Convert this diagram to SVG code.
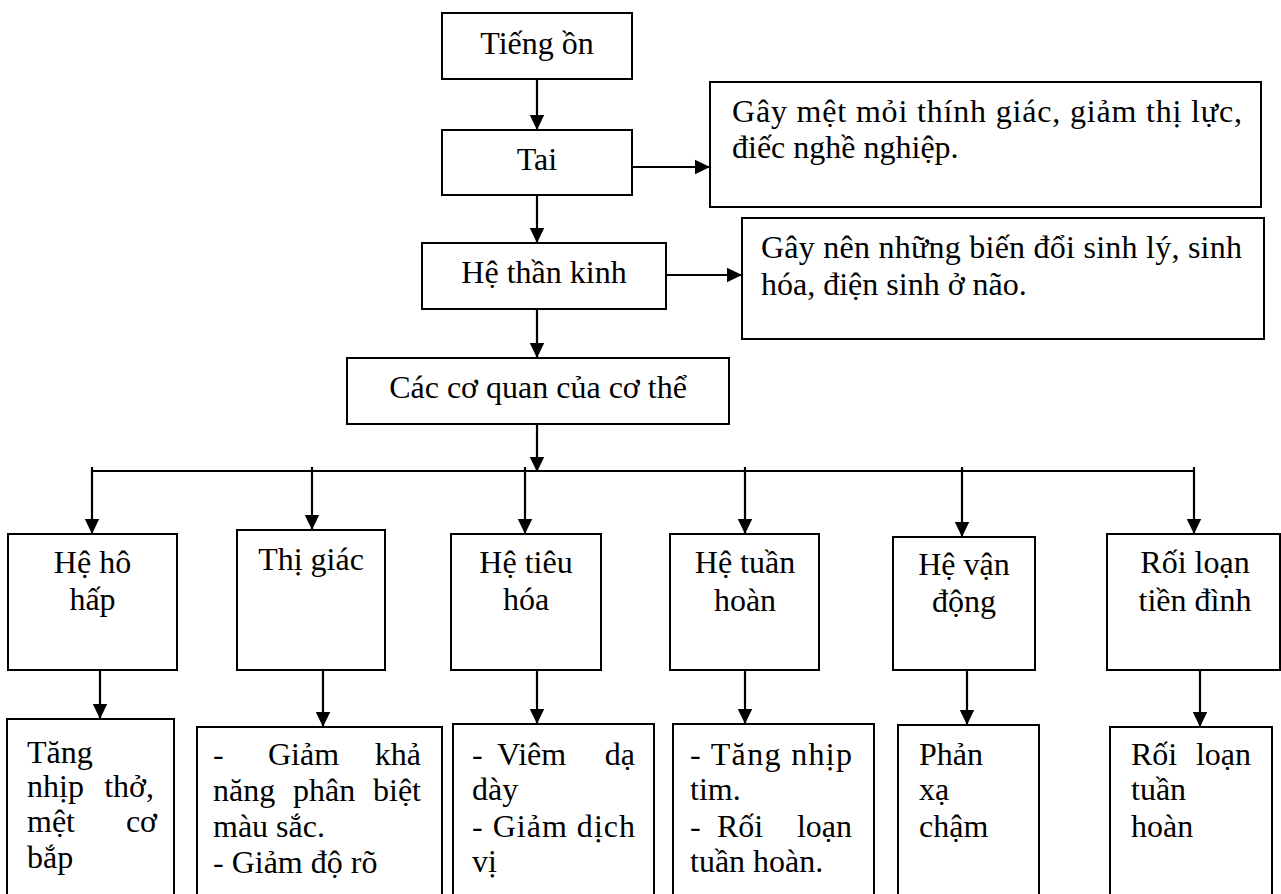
<svg xmlns="http://www.w3.org/2000/svg" width="1281" height="894" viewBox="0 0 1281 894">
<style>
.box{fill:#fff;stroke:#000;stroke-width:2}
.t{font-family:"Liberation Serif","Times New Roman",serif;font-size:32px;fill:#000}
.c{text-anchor:middle}
.e{text-anchor:end}
.ln{stroke:#000;stroke-width:2.2;fill:none}
</style>
<defs>
<marker id="ah" markerWidth="16" markerHeight="16" refX="15" refY="8" orient="auto" markerUnits="userSpaceOnUse">
<path d="M0,0.8 L15,8 L0,15.2 z" fill="#000"/>
</marker>
</defs>
<rect width="1281" height="894" fill="#fff"/>

<g id="connectors">
<line class="ln" x1="537" y1="79" x2="537" y2="130" marker-end="url(#ah)"/>
<line class="ln" x1="537" y1="195" x2="537" y2="243" marker-end="url(#ah)"/>
<line class="ln" x1="632" y1="167" x2="710" y2="167" marker-end="url(#ah)"/>
<line class="ln" x1="537" y1="309" x2="537" y2="358" marker-end="url(#ah)"/>
<line class="ln" x1="666" y1="275" x2="742" y2="275" marker-end="url(#ah)"/>
<line class="ln" x1="537" y1="424" x2="537" y2="472" marker-end="url(#ah)"/>
<line class="ln" x1="92" y1="471" x2="1194" y2="471"/>
<line class="ln" x1="92" y1="467" x2="92" y2="534" marker-end="url(#ah)"/>
<line class="ln" x1="312" y1="467" x2="312" y2="530" marker-end="url(#ah)"/>
<line class="ln" x1="525" y1="467" x2="525" y2="534" marker-end="url(#ah)"/>
<line class="ln" x1="745" y1="467" x2="745" y2="534" marker-end="url(#ah)"/>
<line class="ln" x1="962" y1="467" x2="962" y2="537" marker-end="url(#ah)"/>
<line class="ln" x1="1194" y1="467" x2="1194" y2="534" marker-end="url(#ah)"/>
<line class="ln" x1="100" y1="670" x2="100" y2="719" marker-end="url(#ah)"/>
<line class="ln" x1="323" y1="670" x2="323" y2="727" marker-end="url(#ah)"/>
<line class="ln" x1="537" y1="670" x2="537" y2="724" marker-end="url(#ah)"/>
<line class="ln" x1="745" y1="670" x2="745" y2="724" marker-end="url(#ah)"/>
<line class="ln" x1="967" y1="670" x2="967" y2="725" marker-end="url(#ah)"/>
<line class="ln" x1="1200" y1="670" x2="1200" y2="727" marker-end="url(#ah)"/>
</g>

<g id="tieng-on">
<rect class="box" x="442" y="13" width="190" height="66"/>
<text class="t c" x="537" y="54">Tiếng ồn</text>
</g>
<g id="tai">
<rect class="box" x="442" y="130" width="190" height="65"/>
<text class="t c" x="537" y="170">Tai</text>
</g>
<g id="tai-effect">
<rect class="box" x="710" y="82" width="551" height="125"/>
<text class="t" x="732" y="122" textLength="510" lengthAdjust="spacing">Gây mệt mỏi thính giác, giảm thị lực,</text>
<text class="t" x="732" y="158">điếc nghề nghiệp.</text>
</g>
<g id="he-than-kinh">
<rect class="box" x="422" y="243" width="244" height="66"/>
<text class="t c" x="544" y="283">Hệ thần kinh</text>
</g>
<g id="than-kinh-effect">
<rect class="box" x="742" y="218" width="522" height="121"/>
<text class="t" x="761" y="258" textLength="481" lengthAdjust="spacing">Gây nên những biến đổi sinh lý, sinh</text>
<text class="t" x="761" y="295">hóa, điện sinh ở não.</text>
</g>
<g id="cac-co-quan">
<rect class="box" x="347" y="358" width="382" height="66"/>
<text class="t c" x="538" y="398">Các cơ quan của cơ thể</text>
</g>

<g id="he-ho-hap">
<rect class="box" x="8" y="534" width="169" height="136"/>
<text class="t c" x="92.5" y="573">Hệ hô</text>
<text class="t c" x="92.5" y="610">hấp</text>
</g>
<g id="thi-giac">
<rect class="box" x="237" y="530" width="148" height="140"/>
<text class="t c" x="311" y="570">Thị giác</text>
</g>
<g id="he-tieu-hoa">
<rect class="box" x="451" y="534" width="150" height="136"/>
<text class="t c" x="526" y="573">Hệ tiêu</text>
<text class="t c" x="526" y="610">hóa</text>
</g>
<g id="he-tuan-hoan">
<rect class="box" x="670" y="534" width="149" height="136"/>
<text class="t c" x="745" y="573">Hệ tuần</text>
<text class="t c" x="745" y="611">hoàn</text>
</g>
<g id="he-van-dong">
<rect class="box" x="893" y="537" width="142" height="133"/>
<text class="t c" x="964" y="575">Hệ vận</text>
<text class="t c" x="964" y="612">động</text>
</g>
<g id="roi-loan-tien-dinh">
<rect class="box" x="1107" y="534" width="173" height="136"/>
<text class="t c" x="1195" y="573">Rối loạn</text>
<text class="t c" x="1195" y="611">tiền đình</text>
</g>

<g id="ho-hap-effect">
<rect class="box" x="7" y="719" width="167" height="190"/>
<text class="t" x="27" y="763">Tăng</text>
<text class="t" x="27" y="797">nhịp</text>
<text class="t e" x="154" y="797">thở,</text>
<text class="t" x="27" y="832">mệt</text>
<text class="t e" x="157" y="832">cơ</text>
<text class="t" x="27" y="868">bắp</text>
</g>
<g id="thi-giac-effect">
<rect class="box" x="197" y="727" width="245" height="190"/>
<text class="t" x="213" y="765">-</text>
<text class="t" x="268" y="765">Giảm</text>
<text class="t e" x="421" y="765">khả</text>
<text class="t" x="213" y="801">năng</text>
<text class="t" x="293" y="801">phân</text>
<text class="t e" x="421" y="801">biệt</text>
<text class="t" x="213" y="837">màu sắc.</text>
<text class="t" x="213" y="873">- Giảm độ rõ</text>
</g>
<g id="tieu-hoa-effect">
<rect class="box" x="453" y="724" width="201" height="190"/>
<text class="t" x="472" y="765">-</text>
<text class="t" x="497" y="765">Viêm</text>
<text class="t e" x="635" y="765">dạ</text>
<text class="t" x="472" y="800">dày</text>
<text class="t" x="472" y="837" textLength="163" lengthAdjust="spacing">- Giảm dịch</text>
<text class="t" x="472" y="872">vị</text>
</g>
<g id="tuan-hoan-effect">
<rect class="box" x="673" y="724" width="201" height="190"/>
<text class="t" x="690" y="765" textLength="162" lengthAdjust="spacing">- Tăng nhịp</text>
<text class="t" x="690" y="800">tim.</text>
<text class="t" x="690" y="837">-</text>
<text class="t" x="717" y="837">Rối</text>
<text class="t e" x="852" y="837">loạn</text>
<text class="t" x="690" y="872">tuần hoàn.</text>
</g>
<g id="van-dong-effect">
<rect class="box" x="898" y="725" width="141" height="190"/>
<text class="t" x="919" y="765">Phản</text>
<text class="t" x="919" y="800">xạ</text>
<text class="t" x="919" y="837">chậm</text>
</g>
<g id="tien-dinh-effect">
<rect class="box" x="1110" y="727" width="162" height="190"/>
<text class="t" x="1131" y="765">Rối</text>
<text class="t e" x="1251" y="765">loạn</text>
<text class="t" x="1131" y="800">tuần</text>
<text class="t" x="1131" y="837">hoàn</text>
</g>
</svg>
